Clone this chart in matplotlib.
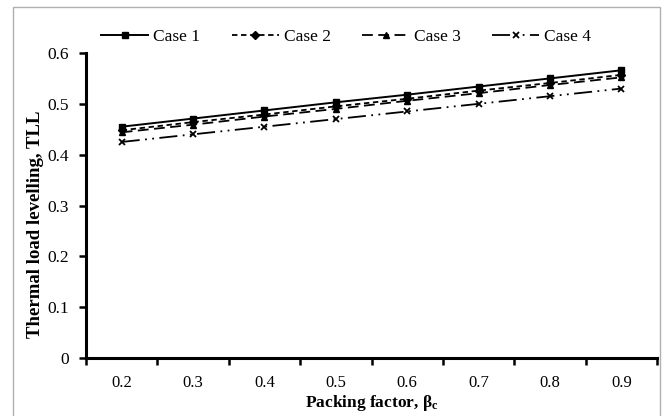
import numpy as np
import matplotlib
matplotlib.use('Agg')
import matplotlib.pyplot as plt
from matplotlib.patches import Rectangle

plt.rcParams['font.family'] = ['Liberation Serif', 'DejaVu Serif']
plt.rcParams['mathtext.fontset'] = 'custom'
plt.rcParams['mathtext.rm'] = 'Liberation Serif'
plt.rcParams['mathtext.bf'] = 'Liberation Serif:bold'

packing = ['0.2', '0.3', '0.4', '0.5', '0.6', '0.7', '0.8', '0.9']
case1 = [0.455, 0.471, 0.487, 0.503, 0.518, 0.534, 0.550, 0.566]
case2 = [0.448, 0.464, 0.479, 0.495, 0.510, 0.526, 0.541, 0.557]
case3 = [0.444, 0.459, 0.475, 0.490, 0.506, 0.521, 0.537, 0.552]
case4 = [0.425, 0.440, 0.455, 0.470, 0.485, 0.500, 0.515, 0.530]

x = np.arange(len(packing))

fig = plt.figure(figsize=(6.68, 4.16), dpi=100)
ax = fig.add_axes([86/668, 1 - 358/416, (657 - 86)/668, (358 - 53)/416])

ax.plot(x, case1, color='k', lw=1.4, ls='-', marker='s', ms=5, label='Case 1')
ax.plot(x, case2, color='k', lw=1.3, ls=(0, (3, 2)), marker='D', ms=4, label='Case 2')
ax.plot(x, case3, color='k', lw=1.3, ls=(0, (6, 3)), marker='^', ms=5, label='Case 3')
ax.plot(x, case4, color='k', lw=1.3, ls=(0, (10, 3, 1, 3, 1, 3)), marker='x', ms=4,
        mew=1.3, label='Case 4')

ax.set_xlim(-0.5, len(packing) - 0.5)
ax.set_ylim(0, 0.6)
ax.set_yticks(np.arange(0, 0.61, 0.1))
ax.set_yticklabels(['0', '0.1', '0.2', '0.3', '0.4', '0.5', '0.6'])

# category ticks sit between the groups, labels centred on each group
ax.set_xticks(np.arange(-0.5, len(packing), 1.0))
ax.set_xticklabels([])
ax.set_xticks(x, minor=True)
ax.set_xticklabels(packing, minor=True)
ax.tick_params(axis='x', which='minor', length=0, pad=12, labelsize=12)
ax.tick_params(axis='x', which='major', length=5, width=1.8, direction='out')
ax.tick_params(axis='y', length=5, width=1.8, direction='out', labelsize=12.5, pad=7)

for side in ['top', 'right']:
    ax.spines[side].set_visible(False)
for side in ['left', 'bottom']:
    ax.spines[side].set_linewidth(2.2)

ax.set_xlabel(r'Packing factor, $\mathbf{\beta_c}$', fontsize=12.5, fontweight='bold', labelpad=2)
ax.set_ylabel('Thermal load levelling, TLL', fontsize=13.5, fontweight='bold')
ax.yaxis.set_label_coords(-0.074, 0.44)

ax.legend(loc='center', bbox_to_anchor=(0.456, 1.052), ncol=4, frameon=False,
          fontsize=12.5, handlelength=2.7, columnspacing=1.8, handletextpad=0.3)

fig.patches.append(Rectangle((13/668, -0.05), (660 - 13)/668, 1.05 - 7/416,
                             transform=fig.transFigure, fill=False,
                             edgecolor='#b0b0b0', lw=1.0))

fig.savefig('out.png', dpi=100)
